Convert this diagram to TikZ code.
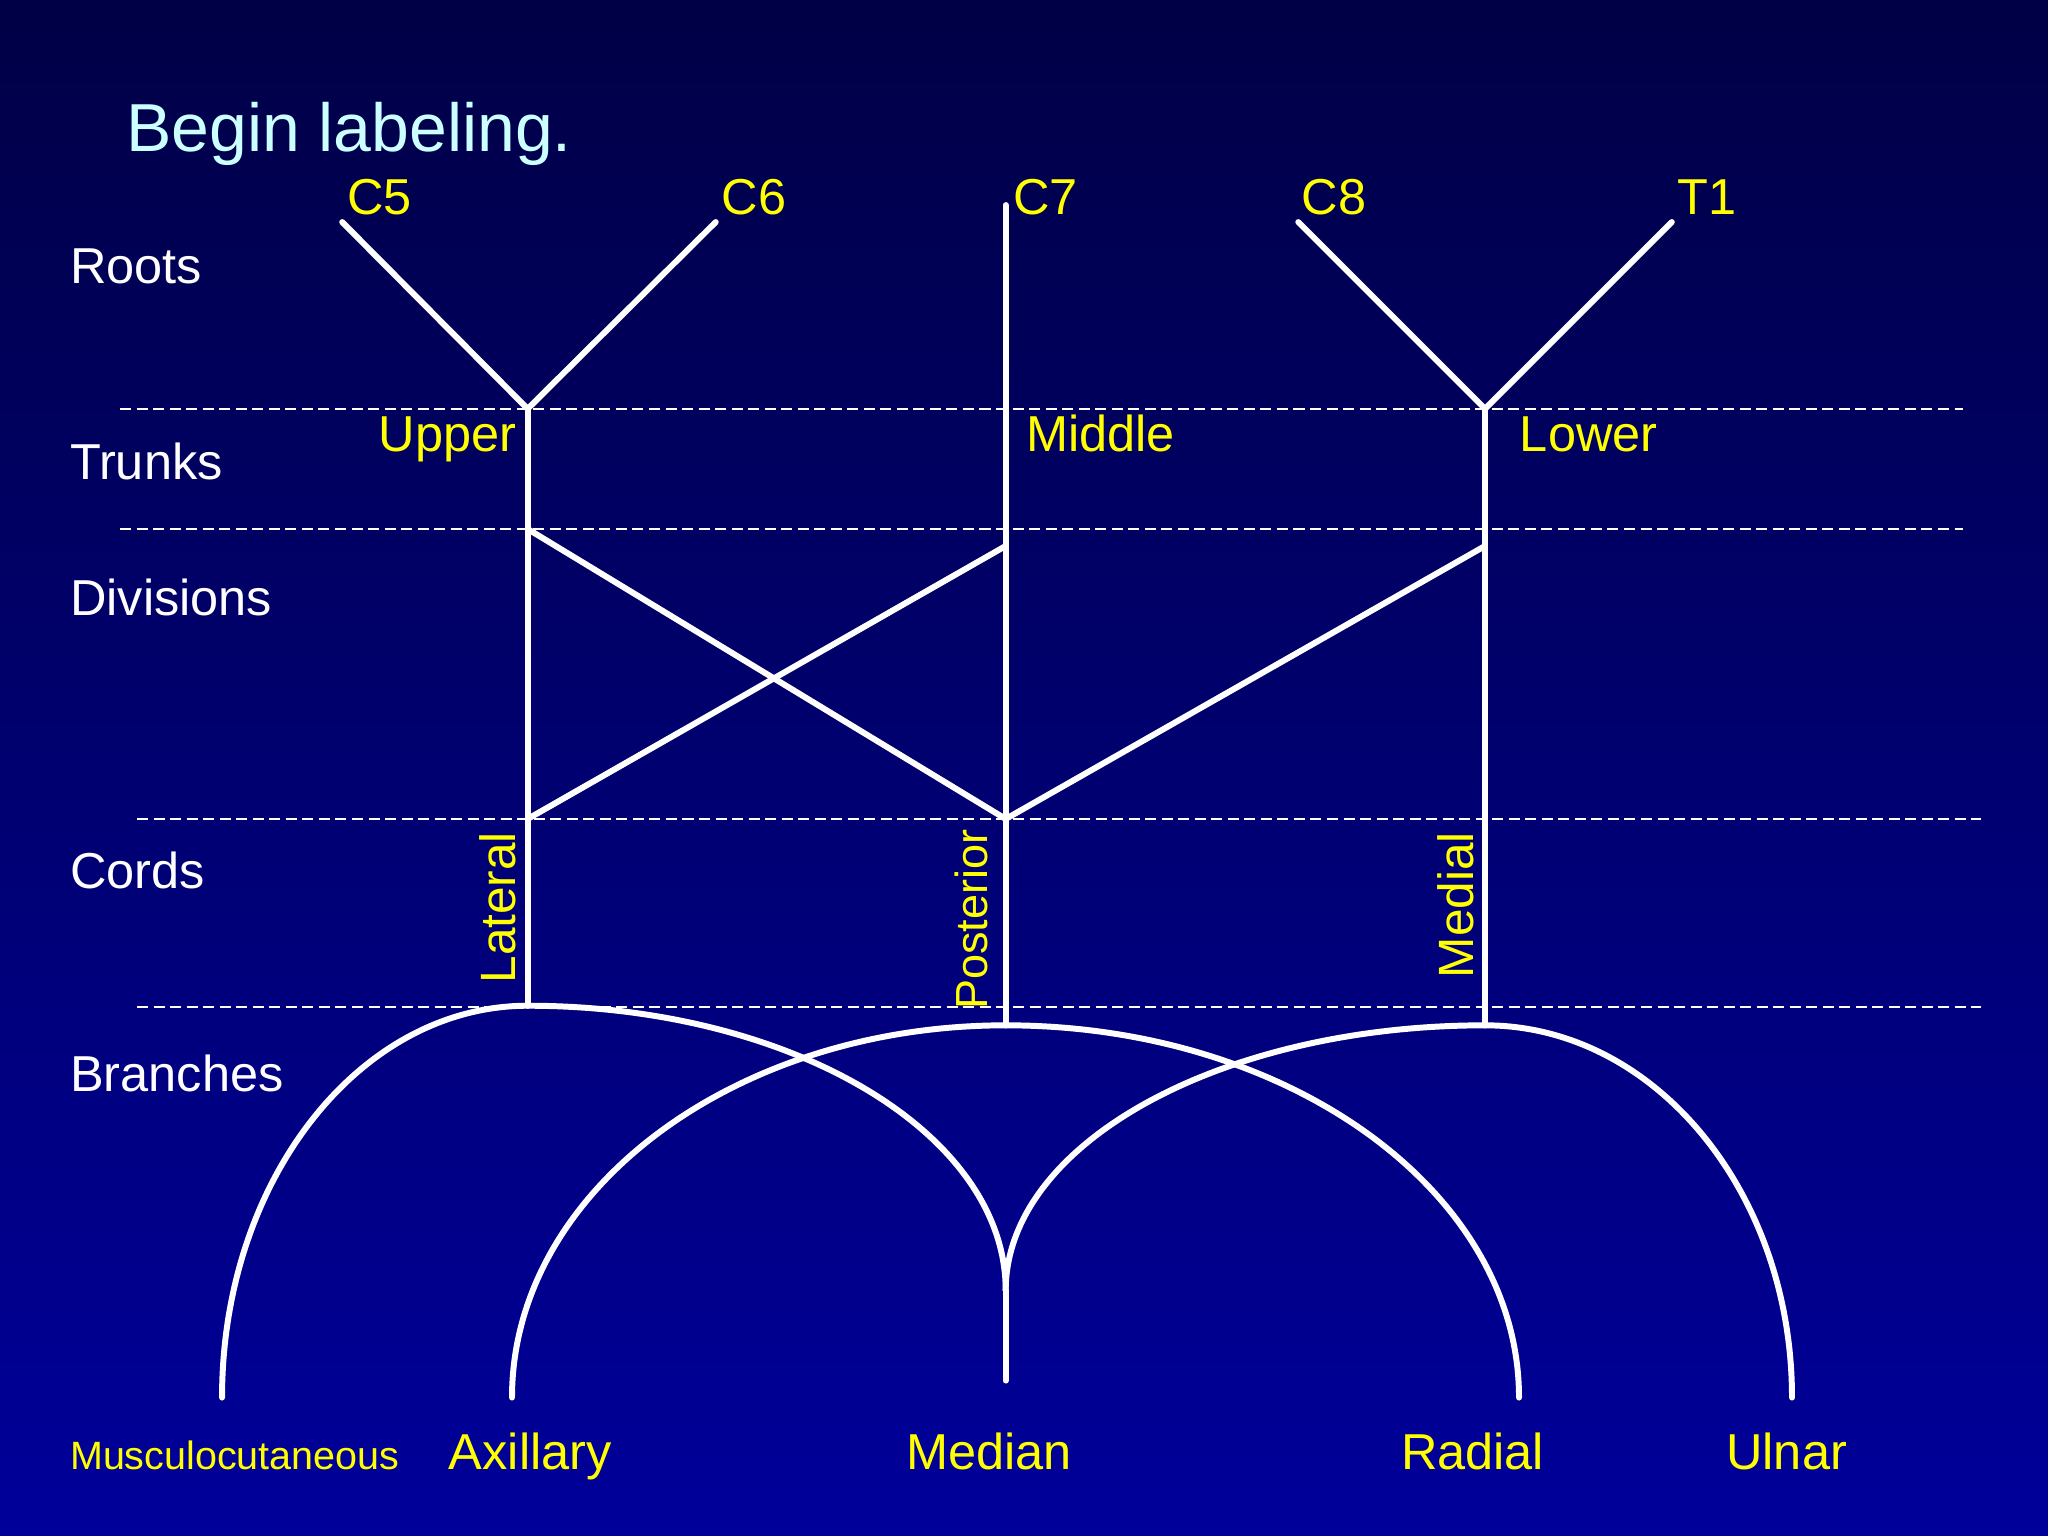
\documentclass[tikz,border=0pt]{standalone}
\usepackage{fontspec}
\setmainfont{Liberation Sans}
\usepackage{xcolor}
\definecolor{plexus-top}{HTML}{000046}
\definecolor{plexus-bottom}{HTML}{00009A}
\definecolor{plexus-title}{HTML}{CCFFFF}
\definecolor{plexus-label}{HTML}{FFFF00}
\usepackage{tikz}

\tikzset{
  nerve/.style={white, line width=1.3pt, line cap=round, line join=round},
  level/.style={white, line width=0.4pt, dash pattern=on 2.4pt off 1.2pt},
  rowname/.style={white, anchor=base west, inner sep=0pt, font=\fontsize{11}{13}\selectfont},
  part/.style={plexus-label, anchor=base west, inner sep=0pt, font=\fontsize{11}{13}\selectfont},
  cord/.style={plexus-label, anchor=base, inner sep=0pt, rotate=90, font=\fontsize{10.8}{13}\selectfont}
}

\begin{document}
\begin{tikzpicture}[x=0.1mm, y=0.1mm]

    % Background
    \shade[top color=plexus-top, bottom color=plexus-bottom] (0, 0) rectangle (1568, -1176);
    \useasboundingbox (0, 0) rectangle (1568, -1176);

    % Title
    \node[plexus-title, anchor=base west, inner sep=0pt, font=\fontsize{14.8}{18}\selectfont] (title) at (96, -116) {Begin labeling.};

    % Level lines
    \draw[level] (92, -313) -- (1503, -313);
    \draw[level] (92, -405) -- (1503, -405);
    \draw[level] (105, -627) -- (1517, -627);
    \draw[level] (105, -771) -- (1517, -771);

    % Row names
    \node[rowname] (roots) at (53, -217) {Roots};
    \node[rowname] (trunks) at (53, -367) {Trunks};
    \node[rowname] (divisions) at (53, -471) {Divisions};
    \node[rowname] (cords) at (53, -680) {Cords};
    \node[rowname] (branches) at (53, -836) {Branches};

    % Points
    \coordinate (c5) at (262, -170);
    \coordinate (c6) at (548, -170);
    \coordinate (c7) at (770, -157);
    \coordinate (c8) at (994, -170);
    \coordinate (t1) at (1280, -170);
    \coordinate (upper) at (404, -313);
    \coordinate (lower) at (1137, -313);
    \coordinate (upper-div) at (404, -405);
    \coordinate (middle-div) at (770, -418);
    \coordinate (lower-div) at (1137, -418);
    \coordinate (lateral) at (404, -627);
    \coordinate (posterior) at (770, -627);
    \coordinate (lateral-end) at (404, -770);
    \coordinate (posterior-end) at (770, -785);
    \coordinate (medial-end) at (1137, -785);
    \coordinate (median-end) at (770, -1057);

    % Roots
    \draw[nerve] (c5) -- (upper) -- (c6);
    \draw[nerve] (c8) -- (lower) -- (t1);
    \draw[nerve] (c7) -- (posterior-end);

    % Trunks and cords
    \draw[nerve] (upper) -- (lateral-end);
    \draw[nerve] (lower) -- (medial-end);

    % Divisions
    \draw[nerve] (upper-div) -- (posterior);
    \draw[nerve] (middle-div) -- (lateral);
    \draw[nerve] (lower-div) -- (posterior);

    % Branches
    \draw[nerve] (lateral-end) arc[start angle=90, end angle=180, x radius=234, y radius=300];
    \draw[nerve] (lateral-end) arc[start angle=90, end angle=0, x radius=366, y radius=218];
    \draw[nerve] (posterior-end) arc[start angle=90, end angle=180, x radius=378, y radius=285];
    \draw[nerve] (posterior-end) arc[start angle=90, end angle=0, x radius=393, y radius=285];
    \draw[nerve] (medial-end) arc[start angle=90, end angle=180, x radius=367, y radius=203];
    \draw[nerve] (medial-end) arc[start angle=90, end angle=0, x radius=235, y radius=285];
    \draw[nerve] (770, -988) -- (median-end);

    % Root labels
    \node[part] (c5-label) at (265, -164) {C5};
    \node[part] (c6-label) at (552, -164) {C6};
    \node[part] (c7-label) at (775, -164) {C7};
    \node[part] (c8-label) at (996, -164) {C8};
    \node[part] (t1-label) at (1284, -164) {T1};

    % Trunk labels
    \node[part, anchor=base east] (upper-label) at (396, -346) {Upper};
    \node[part] (middle-label) at (785, -346) {Middle};
    \node[part] (lower-label) at (1163, -346) {Lower};

    % Cord labels
    \node[cord] (lateral-label) at (395, -695) {Lateral};
    \node[cord, font=\fontsize{9.8}{12}\selectfont] (posterior-label) at (756, -704) {Posterior};
    \node[cord] (medial-label) at (1128, -693) {Medial};

    % Branch labels
    \node[part, font=\fontsize{8.6}{10}\selectfont] (musculocutaneous) at (53, -1125) {Musculocutaneous};
    \node[part] (axillary) at (343, -1125) {Axillary};
    \node[part] (median) at (693, -1125) {Median};
    \node[part] (radial) at (1072, -1125) {Radial};
    \node[part] (ulnar) at (1321, -1125) {Ulnar};

\end{tikzpicture}
\end{document}
